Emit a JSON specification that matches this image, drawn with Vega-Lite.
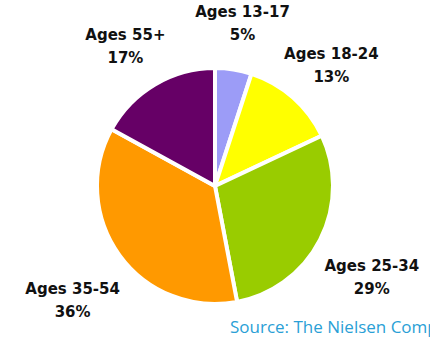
{
  "$schema": "https://vega.github.io/schema/vega-lite/v6.json",
  "width": 236,
  "height": 236,
  "autosize": {"type": "none"},
  "padding": {"top": 68, "left": 97, "right": 97, "bottom": 34},
  "background": "white",
  "view": {"stroke": null},
  "title": {
    "text": "Source: The Nielsen Company",
    "orient": "bottom",
    "anchor": "start",
    "frame": "group",
    "dx": 133,
    "offset": 0,
    "color": "#2a9fd6",
    "font": "Open Sans",
    "fontSize": 17,
    "fontWeight": "normal"
  },
  "data": {
    "values": [
      {"age": "Ages 13-17", "pct": 5, "order": 1, "label": "Ages 13-17\n5%"},
      {"age": "Ages 18-24", "pct": 13, "order": 2, "label": "Ages 18-24\n13%"},
      {"age": "Ages 25-34", "pct": 29, "order": 3, "label": "Ages 25-34\n29%"},
      {"age": "Ages 35-54", "pct": 36, "order": 4, "label": "Ages 35-54\n36%"},
      {"age": "Ages 55+", "pct": 17, "order": 5, "label": "Ages 55+\n17%"}
    ]
  },
  "encoding": {
    "theta": {"field": "pct", "type": "quantitative", "stack": true},
    "order": {"field": "order", "type": "quantitative"}
  },
  "layer": [
    {
      "mark": {"type": "arc", "outerRadius": 118, "stroke": "white", "strokeWidth": 4},
      "encoding": {
        "color": {
          "field": "age",
          "type": "nominal",
          "scale": {
            "domain": ["Ages 13-17", "Ages 18-24", "Ages 25-34", "Ages 35-54", "Ages 55+"],
            "range": ["#9c9cf7", "#ffff00", "#99cc00", "#ff9900", "#660066"]
          },
          "legend": null
        }
      }
    },
    {
      "mark": {
        "type": "text",
        "radius": 176,
        "font": "DejaVu Sans",
        "fontWeight": "bold",
        "fontSize": 15,
        "lineBreak": "\n",
        "lineHeight": 23,
        "color": "#111111"
      },
      "encoding": {"text": {"field": "label"}}
    }
  ]
}
